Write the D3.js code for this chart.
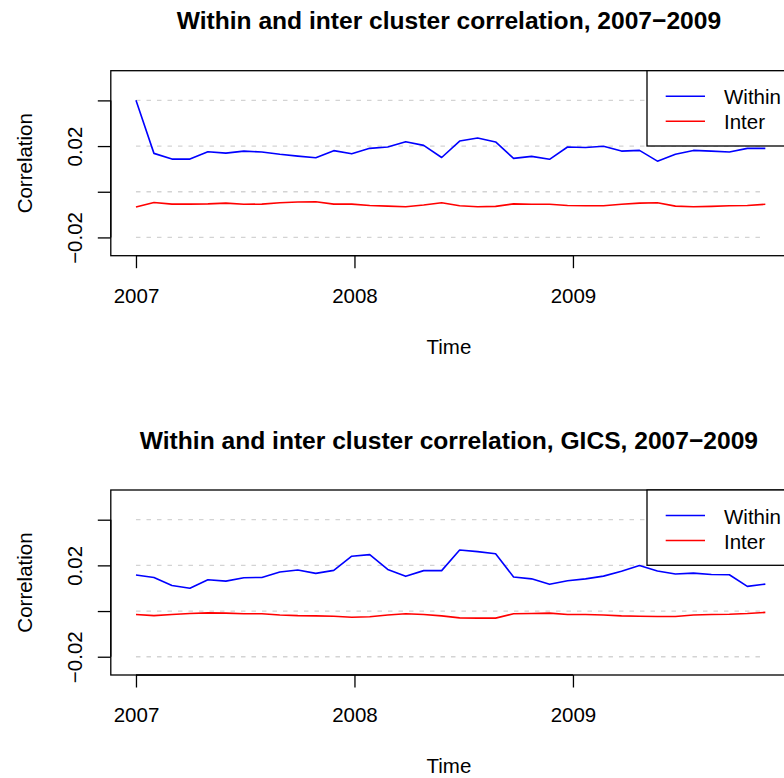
<!DOCTYPE html>
<html>
<head>
<meta charset="utf-8">
<script src="https://cdn.jsdelivr.net/npm/d3@7"></script>
<style>
  html, body { margin: 0; padding: 0; background: #fff; }
  svg { display: block; font-family: "Liberation Sans", Arial, Helvetica, sans-serif; }
</style>
</head>
<body>
<svg id="chart" width="784" height="778"></svg>
<script>
// Observation times (decimal years), one per rolling window
const times = [
  2007.0000, 2007.0823, 2007.1646, 2007.2469, 2007.3292, 2007.4115,
  2007.4938, 2007.5761, 2007.6584, 2007.7407, 2007.8230, 2007.9053,
  2007.9876, 2008.0699, 2008.1522, 2008.2345, 2008.3168, 2008.3991,
  2008.4814, 2008.5637, 2008.6460, 2008.7283, 2008.8106, 2008.8929,
  2008.9752, 2009.0575, 2009.1398, 2009.2221, 2009.3044, 2009.3867,
  2009.4690, 2009.5513, 2009.6336, 2009.7159, 2009.7982, 2009.8805
];

// Clustering-based groups
const withinCluster = [
  0.0401, 0.0168, 0.0143, 0.0143, 0.0175, 0.0169, 0.0178, 0.0174, 0.0164,
  0.0156, 0.0149, 0.0180, 0.0166, 0.0190, 0.0196, 0.0219, 0.0203, 0.0150,
  0.0222, 0.0235, 0.0218, 0.0146, 0.0155, 0.0142, 0.0196, 0.0194, 0.0199,
  0.0178, 0.0181, 0.0134, 0.0164, 0.0181, 0.0178, 0.0174, 0.0190, 0.0190
];
const interCluster = [
  -0.0067, -0.0047, -0.0054, -0.0054, -0.0053, -0.0050, -0.0055, -0.0054, -0.0048,
  -0.0045, -0.0044, -0.0054, -0.0054, -0.0060, -0.0063, -0.0066, -0.0058, -0.0048,
  -0.0061, -0.0066, -0.0064, -0.0053, -0.0055, -0.0055, -0.0060, -0.0061, -0.0061,
  -0.0055, -0.0050, -0.0048, -0.0063, -0.0066, -0.0064, -0.0061, -0.0060, -0.0055
];

// GICS sector groups
const withinGics = [
  0.0158, 0.0147, 0.0112, 0.0100, 0.0137, 0.0131, 0.0146, 0.0147, 0.0171,
  0.0180, 0.0165, 0.0178, 0.0240, 0.0247, 0.0182, 0.0152, 0.0177, 0.0177,
  0.0267, 0.0260, 0.0251, 0.0149, 0.0141, 0.0117, 0.0133, 0.0141, 0.0153,
  0.0174, 0.0199, 0.0175, 0.0162, 0.0166, 0.0160, 0.0159, 0.0108, 0.0118
];
const interGics = [
  -0.0015, -0.0020, -0.0015, -0.0011, -0.0008, -0.0009, -0.0012, -0.0012, -0.0017,
  -0.0020, -0.0021, -0.0023, -0.0027, -0.0025, -0.0017, -0.0012, -0.0015, -0.0021,
  -0.0030, -0.0031, -0.0031, -0.0012, -0.0011, -0.0009, -0.0015, -0.0015, -0.0017,
  -0.0021, -0.0023, -0.0024, -0.0024, -0.0017, -0.0015, -0.0014, -0.0011, -0.0006
];

const xTicks = [2007, 2008, 2009];
const xTickLabels = ["2007", "2008", "2009"];
const yTicks = [-0.02, 0, 0.02, 0.04];
const yTickLabels = ["\u22120.02", "", "0.02", ""];   // crowded labels are dropped
const gridLevels = [-0.02, 0, 0.02, 0.04];
const yLimits = [-0.025, 0.05];
const seriesNames = ["Within", "Inter"];
const seriesColors = ["#0000FF", "#FF0000"];
const titles = [
  "Within and inter cluster correlation, 2007\u22122009",
  "Within and inter cluster correlation, GICS, 2007\u22122009"
];

const svg = d3.select("#chart");
svg.append("rect").attr("width", 784).attr("height", 778).attr("fill", "#fff");

const FS = 20.5;
const plotLeft = 110.8, plotRight = 790.5, plotH = 185;

// pad a range by 4% on each side
function padded([a, b]) { const p = (b - a) * 0.04; return [a - p, b + p]; }

function drawPanel(top, title, within, inter) {
  const g = svg.append("g");
  const x = d3.scaleLinear().domain(padded(d3.extent(times))).range([plotLeft, plotRight]);
  const y = d3.scaleLinear().domain(padded(yLimits)).range([top + plotH, top]);
  const midX = (plotLeft + 787) / 2;

  // title
  g.append("text")
    .attr("x", midX).attr("y", top - 41.5)
    .attr("text-anchor", "middle").attr("font-weight", "bold")
    .attr("font-size", FS * 1.2).text(title);

  // dashed reference levels across the observed period
  const [t0, t1] = d3.extent(times);
  g.selectAll("line.grid").data(gridLevels).join("line")
    .attr("x1", x(t0)).attr("x2", x(t1))
    .attr("y1", d => y(d)).attr("y2", d => y(d))
    .attr("stroke", "#d3d3d3").attr("stroke-width", 1.3)
    .attr("stroke-dasharray", "4.5,6");

  // series
  const line = d3.line().x((d, i) => x(times[i])).y(d => y(d));
  [within, inter].forEach((vals, k) => {
    g.append("path").datum(vals)
      .attr("d", line).attr("fill", "none")
      .attr("stroke", seriesColors[k]).attr("stroke-width", 1.6)
      .attr("stroke-linejoin", "round");
  });

  // x axis
  const xAxis = d3.axisBottom(x).tickValues(xTicks)
    .tickFormat((d, i) => xTickLabels[i]).tickSize(12.5).tickPadding(20);
  const xa = g.append("g").attr("transform", `translate(0,${top + plotH})`).call(xAxis);
  xa.select(".domain").attr("d", `M${x(xTicks[0])},0H${x(xTicks[xTicks.length - 1])}`)
    .attr("stroke", "#000").attr("stroke-width", 1.3);
  xa.selectAll(".tick line").attr("stroke", "#000").attr("stroke-width", 1.3);
  xa.selectAll(".tick text").attr("font-size", FS).attr("fill", "#000")
    .attr("font-family", "Liberation Sans, Arial, sans-serif").attr("dy", "0.71em");

  // y axis
  const yAxis = d3.axisLeft(y).tickValues(yTicks)
    .tickFormat((d, i) => yTickLabels[i]).tickSize(13).tickPadding(0);
  const ya = g.append("g").attr("transform", `translate(${plotLeft},0)`).call(yAxis);
  ya.select(".domain").attr("d", `M0,${y(yTicks[0])}V${y(yTicks[yTicks.length - 1])}`)
    .attr("stroke", "#000").attr("stroke-width", 1.3);
  ya.selectAll(".tick line").attr("stroke", "#000").attr("stroke-width", 1.3);
  ya.selectAll(".tick text").remove();
  ya.selectAll(".tick").append("text")
    .attr("transform", "translate(-29,0) rotate(-90)")
    .attr("text-anchor", "middle").attr("font-size", FS).attr("fill", "#000")
    .attr("font-family", "Liberation Sans, Arial, sans-serif")
    .text((d, i) => yTickLabels[i]);

  // axis titles
  g.append("text")
    .attr("x", midX).attr("y", top + plotH + 98)
    .attr("text-anchor", "middle").attr("font-size", FS).text("Time");
  g.append("text")
    .attr("transform", `translate(31.5,${top + plotH / 2}) rotate(-90)`)
    .attr("text-anchor", "middle").attr("font-size", FS).text("Correlation");

  // plot frame
  g.append("rect")
    .attr("x", plotLeft).attr("y", top)
    .attr("width", plotRight - plotLeft).attr("height", plotH)
    .attr("fill", "none").attr("stroke", "#000").attr("stroke-width", 1.3);

  // legend, top-right corner
  const lg = g.append("g");
  const lx = 647, lh = 75.3;
  lg.append("rect").attr("x", lx).attr("y", top)
    .attr("width", plotRight - lx).attr("height", lh)
    .attr("fill", "#fff").attr("stroke", "#000").attr("stroke-width", 1.3);
  seriesNames.forEach((name, k) => {
    const ly = top + 25.5 + k * 25;
    lg.append("line").attr("x1", lx + 18.7).attr("x2", lx + 58)
      .attr("y1", ly).attr("y2", ly)
      .attr("stroke", seriesColors[k]).attr("stroke-width", 1.6);
    lg.append("text").attr("x", lx + 77).attr("y", ly + 8)
      .attr("font-size", FS).text(name);
  });
}

drawPanel(70.7, titles[0], withinCluster, interCluster);
drawPanel(490, titles[1], withinGics, interGics);
</script>
</body>
</html>
